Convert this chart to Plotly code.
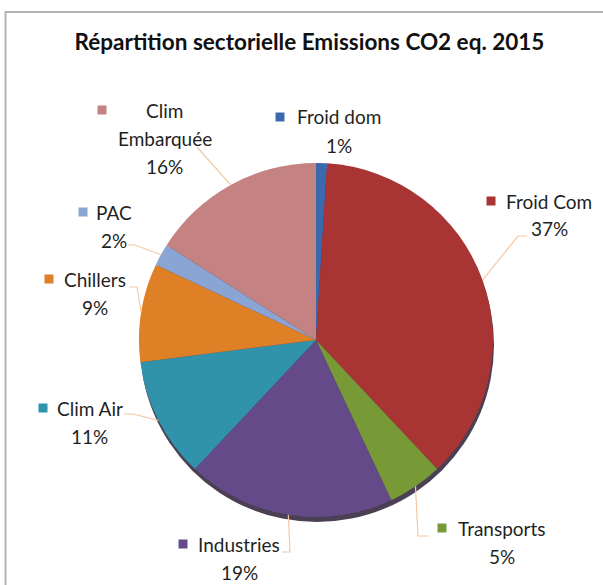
import math
import plotly.graph_objects as go

W, H = 603, 585

title = "Répartition sectorielle Emissions CO2 eq. 2015"
labels = ["Froid dom", "Froid Com", "Transports", "Industries",
          "Clim Air", "Chillers", "PAC", "Clim Embarquée"]
values = [1, 37, 5, 19, 11, 9, 2, 16]
colors = ["#3a6aad", "#a83434", "#779a36", "#654a8a",
          "#3192ac", "#df7f26", "#8aa5d3", "#c48382"]

# label layout in pixels: text centre x, first line y, key square x, leader elbow points
label_pos = {
    "Froid dom":      dict(cx=339, y=117, kx=280, lines=["Froid dom"], leader=[]),
    "Froid Com":      dict(cx=549, y=201, kx=491, lines=["Froid Com"], leader=[(527, 236), (518, 236)]),
    "Transports":     dict(cx=502, y=528, kx=442, lines=["Transports"], leader=[(429, 536), (418, 536)]),
    "Industries":     dict(cx=239, y=544, kx=183, lines=["Industries"], leader=[(282, 552), (290, 552)]),
    "Clim Air":       dict(cx=90, y=408, kx=43, lines=["Clim Air"], leader=[(124, 414), (133, 414)]),
    "Chillers":       dict(cx=95, y=279, kx=49, lines=["Chillers"], leader=[(129, 287), (137, 287)]),
    "PAC":            dict(cx=114, y=212, kx=83, lines=["PAC"], leader=[(128, 245), (135, 245)]),
    "Clim Embarquée": dict(cx=165, y=110, kx=102, lines=["Clim", "Embarquée"], leader=[(197, 147)]),
}

CX, CY, R = 316, 340, 177
LINE_H = 28
FONT = "Lato, 'Open Sans', sans-serif"


def px(x):
    return x / W


def py(y):
    return 1 - y / H


fig = go.Figure()

fig.add_trace(go.Pie(
    labels=labels,
    values=values,
    sort=False,
    direction="clockwise",
    rotation=0,
    textinfo="none",
    marker=dict(colors=colors, line=dict(width=0)),
    domain=dict(x=[px(CX - R), px(CX + R)], y=[py(CY + R), py(CY - R)]),
    showlegend=False,
    hovertemplate="%{label}: %{percent}<extra></extra>",
))

shapes = []
# chart frame (only top and left edges are visible in the crop)
shapes.append(dict(type="rect", xref="paper", yref="paper",
                   x0=px(5.5), y0=py(700), x1=px(700), y1=py(12),
                   line=dict(color="#b3b3b3", width=2), fillcolor="rgba(0,0,0,0)",
                   layer="below"))
# soft shadow under the pie
shapes.append(dict(type="circle", xref="paper", yref="paper",
                   x0=px(CX - R + 1), x1=px(CX + R + 1),
                   y0=py(CY + R + 5), y1=py(CY - R + 5),
                   fillcolor="rgba(30,15,40,0.8)", line=dict(width=0), layer="below"))

annotations = []
total = sum(values)
cum = 0
for lab, val, col in zip(labels, values, colors):
    mid = (cum + val / 2) / total * 2 * math.pi
    cum += val
    p = label_pos[lab]
    pct = f"{round(val / total * 100)}%"
    lines = p["lines"] + [pct]
    for i, t in enumerate(lines):
        annotations.append(dict(
            x=px(p["cx"]), y=py(p["y"] + i * LINE_H), xref="paper", yref="paper",
            text=t, showarrow=False, xanchor="center", yanchor="middle",
            font=dict(family=FONT, size=19, color="#1f1f1f"),
        ))
    # legend key square
    k = 9
    shapes.append(dict(type="rect", xref="paper", yref="paper",
                       x0=px(p["kx"] - k / 2), x1=px(p["kx"] + k / 2),
                       y0=py(p["y"] + k / 2), y1=py(p["y"] - k / 2),
                       fillcolor=col, line=dict(width=0)))
    # leader line to the slice edge
    if p["leader"]:
        ex = CX + R * math.sin(mid)
        ey = CY - R * math.cos(mid)
        pts = p["leader"] + [(ex, ey)]
        path = "M " + " L ".join(f"{px(a):.5f},{py(b):.5f}" for a, b in pts)
        shapes.append(dict(type="path", xref="paper", yref="paper", path=path,
                           line=dict(color="#f6c8a2", width=1.2)))

fig.update_layout(
    width=W, height=H,
    margin=dict(l=0, r=0, t=0, b=0),
    paper_bgcolor="white",
    plot_bgcolor="white",
    title=dict(text=f"<b>{title}</b>", x=px(309.5), y=py(42),
               xanchor="center", yanchor="middle",
               font=dict(family=FONT, size=22.5, color="#111111")),
    shapes=shapes,
    annotations=annotations,
)

fig.write_html("out.html", config={"displayModeBar": False},
               post_script="document.body.style.margin='0';document.body.style.overflow='hidden';")
